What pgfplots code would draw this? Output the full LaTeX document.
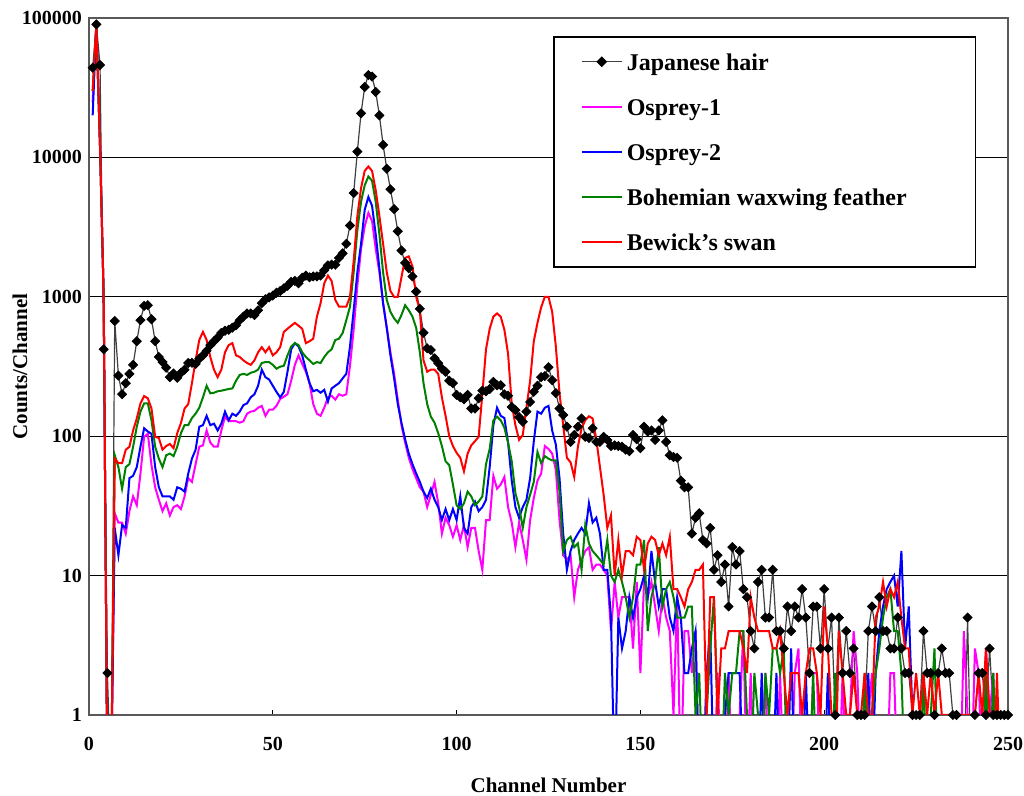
\documentclass[border=0pt]{standalone}
\usepackage{fontspec}
\setmainfont{Liberation Serif}
\usepackage{pgfplots}
\pgfplotsset{compat=1.18}
\usepackage{pgfplotstable}
\definecolor{cmag}{RGB}{255,0,255}
\definecolor{cblu}{RGB}{0,0,255}
\definecolor{cgrn}{RGB}{0,128,0}
\definecolor{cred}{RGB}{255,0,0}
\definecolor{cblk}{RGB}{64,64,64}
% ch = channel; jp = Japanese hair; o1 = Osprey-1; o2 = Osprey-2; bw = Bohemian waxwing feather; bs = Bewick's swan
% 0.3 stands for an empty channel (drawn below the axis, as zero counts are)
\pgfplotstableread{
ch jp o1 o2 bw bs
1 44000 25000 20000 30000 30000
2 90000 90000 90000 90000 90000
3 46000 12000 12000 12000 12000
4 420 1000 1000 1000 1000
5 2 0.3 0.3 0.3 0.3
6 0.3 0.3 0.3 0.3 0.3
7 670 28 22 73 69
8 272 24 14 60 64
9 200 24 23 42 64
10 240 20 22 60 80
11 280 29 50 63 84
12 325 37 52 84 110
13 480 32 60 117 134
14 680 54 84 150 172
15 860 99 114 172 194
16 870 104 108 172 187
17 690 62 104 130 158
18 480 43 60 84 99
19 370 35 43 69 97
20 340 29 37 60 80
21 310 33 37 73 85
22 265 27 37 75 88
23 282 31 35 72 82
24 262 32 43 84 105
25 285 30 42 105 124
26 300 37 40 120 158
27 335 50 54 120 170
28 336 47 69 135 240
29 330 63 80 145 350
30 360 84 117 160 490
31 380 86 120 190 560
32 410 110 140 230 490
33 450 90 120 203 370
34 480 84 123 205 300
35 510 84 110 210 265
36 550 110 123 212 300
37 570 138 150 215 400
38 580 128 130 218 450
39 600 128 145 220 465
40 625 128 140 250 380
41 680 125 150 275 370
42 720 128 167 280 350
43 760 145 172 275 335
44 760 150 190 285 325
45 740 152 200 290 350
46 800 160 230 300 400
47 900 165 300 335 435
48 960 140 265 340 400
49 990 155 255 340 435
50 1020 155 230 325 380
51 1070 165 208 305 400
52 1100 185 190 315 435
53 1150 192 208 320 560
54 1200 200 290 380 590
55 1280 250 420 440 620
56 1300 325 465 465 650
57 1250 380 440 450 620
58 1370 330 380 400 590
59 1420 290 300 370 465
60 1380 240 240 350 480
61 1400 170 210 330 500
62 1400 145 215 340 720
63 1420 140 205 335 900
64 1550 160 215 370 1250
65 1680 190 177 400 1420
66 1700 195 220 420 1300
67 1700 183 230 490 950
68 1900 200 240 500 850
69 2050 195 260 550 850
70 2400 200 280 680 850
71 3250 320 440 850 1000
72 5550 580 800 1500 1800
73 11000 1200 1500 3000 3800
74 20700 2200 2400 4800 6000
75 32000 3200 4200 6300 8000
76 39000 4000 5200 7300 8600
77 38000 3500 4500 6800 8000
78 29500 2200 2800 4800 5800
79 20000 1500 1600 2800 3800
80 12300 900 900 1500 2400
81 8300 600 600 950 1500
82 5900 400 380 780 1100
83 4250 280 260 700 1000
84 2950 183 170 650 1000
85 2150 120 125 740 1380
86 1750 90 95 870 1900
87 1600 70 75 800 1950
88 1400 58 63 720 1650
89 1090 50 54 600 1000
90 820 43 47 400 800
91 552 40 40 240 350
92 427 31 36 170 290
93 415 38 42 138 300
94 362 47 35 125 300
95 334 33 31 105 280
96 305 20 25 85 190
97 290 26 30 66 140
98 250 23 25 62 100
99 240 19 30 45 85
100 198 23 25 32 76
101 190 18 37 30 70
102 184 23 22 33 56
103 198 16 20 40 75
104 158 22 31 37 86
105 158 22 34 32 92
106 187 15 29 34 99
107 212 11 31 37 200
108 210 25 35 63 420
109 218 25 60 81 590
110 245 52 120 130 720
111 232 42 160 138 760
112 232 45 140 130 720
113 200 51 135 115 580
114 195 31 90 90 390
115 162 24 48 66 170
116 154 16 31 39 120
117 137 24 26 31 94
118 127 18 31 22 102
119 150 13 35 31 160
120 176 25 50 38 250
121 208 36 92 47 480
122 230 48 150 77 650
123 265 54 145 64 840
124 270 85 160 72 1000
125 312 81 165 69 1000
126 252 75 110 67 780
127 204 57 87 67 440
128 158 25 50 40 203
129 142 14 20 15 120
130 117 13 11 18 70
131 91 14 15 19 65
132 102 7 18 16 51
133 117 11 20 17 84
134 134 13 22 11 114
135 99 15 20 23 130
136 97 16 33 17 139
137 114 11 24 15 134
138 91 12 26 14 95
139 91 12 20 13 60
140 99 11 11 12 38
141 94 10 11 18 22
142 85 4 5 10 27
143 86 9 0.3 9 10
144 85 5 5 11 18
145 84 7 3 9 10
146 80 7 4 7 15
147 78 7 7 5 15
148 102 3 5 7 14
149 95 9 7 12 19
150 82 2 8 12 18
151 117 9 10 18 11
152 108 7 7 4 17
153 110 9 15 7 19
154 94 6 9 9 18
155 110 4 6 16 14
156 130 7 8 6 17
157 91 5 8 8 14
158 73 4 5 9 19
159 71 1 4 7 8
160 70 7 7 5 8
161 48 0.3 5 5 7
162 43 4 2 5 6
163 43 4 2 6 8
164 20 2 3 6 9
165 26 4 4 1 11
166 28 0.3 0.3 2 11
167 18 0.3 0.3 0.3 12
168 17 0.3 2 1 1
169 22 0.3 4 3 7
170 11 0.3 0.3 7 7
171 14 2 0.3 1 1
172 9 0.3 0.3 0.3 3
173 12 0.3 1 2 3
174 6 2 2 1 4
175 16 0.3 2 2 4
176 12 0.3 2 2 4
177 15 1 2 4 4
178 8 4 0.3 4 3
179 7 0.3 1 1 2
180 4 2 0.3 0.3 7
181 3 0.3 1 2 5
182 9 1 0.3 1 4
183 11 0.3 2 0.3 4
184 5 2 0.3 2 4
185 5 0.3 1 1 4
186 11 1 0.3 3 3
187 4 0.3 2 3 3
188 4 2 0.3 2 4
189 3 0.3 1 3 2
190 6 1 0.3 0.3 1
191 4 0.3 3 1 2
192 6 2 0.3 0.3 2
193 5 3 1 1 2
194 8 0.3 0.3 0.3 1
195 5 1 2 1 2
196 2 0.3 0.3 0.3 3
197 6 2 1 2 3
198 6 2 0.3 0.3 2
199 3 0.3 1 1 1
200 8 1 0.3 0.3 6
201 3 0.3 2 1 3
202 5 0.3 0.3 0.3 1
203 1 1 0.3 2 0.3
204 5 0.3 1 0.3 4
205 2 2 0.3 1 2
206 4 0.3 0.3 0.3 1
207 2 1 1 1 1
208 3 4 0.3 0.3 2
209 1 2 0.3 1 1
210 1 0.3 1 0.3 1
211 1 0.3 0.3 2 2
212 4 1 2 0.3 1
213 6 2 0.3 1 1
214 4 0.3 2 2 5
215 7 1 4 3 6
216 4 0.3 6 5 9
217 4 0.3 8 7 6
218 3 2 9 8 8
219 3 2 10 4 7
220 5 0.3 6 4 9
221 3 0.3 15 2 5
222 2 0.3 3 0.3 3
223 2 1 6 0.3 3
224 1 0.3 1 1 1
225 1 0.3 0.3 0.3 2
226 1 1 0.3 0.3 1
227 4 0.3 1 2 2
228 2 0.3 0.3 0.3 1
229 2 1 0.3 1 2
230 1 0.3 0.3 3 1
231 2 0.3 1 0.3 2
232 3 1 0.3 0.3 1
233 2 0.3 0.3 1 1
234 2 0.3 0.3 0.3 1
235 1 1 0.3 0.3 1
236 1 0.3 0.3 0.3 1
237 0.3 0.3 0.3 0.3 1
238 0.3 4 0.3 1 1
239 5 1 0.3 0.3 1
240 0.3 0.3 0.3 0.3 1
241 1 3 0.3 0.3 1
242 2 2 0.3 1 2
243 2 0.3 0.3 0.3 1
244 1 3 0.3 2 3
245 3 1 0.3 0.3 1
246 1 2 0.3 2 0.3
247 1 0.3 0.3 0.3 2
248 1 0.3 0.3 0.3 0.3
249 1 0.3 0.3 0.3 0.3
250 1 0.3 0.3 0.3 0.3
}\spectra

\begin{document}
\begin{tikzpicture}
\begin{axis}[
  scale only axis, width=459.5pt, height=348.5pt,
  xmin=0, xmax=250, ymin=1, ymax=100000, ymode=log,
  xtick={0,50,100,150,200,250}, xticklabels={0,50,100,150,200,250},
  ytick={1,10,100,1000,10000,100000},
  yticklabels={1,10,100,1000,10000,100000},
  yminorticks=false,
  xtick pos=left, ytick pos=left, tick align=inside,
  major tick length=2.5pt,
  tick style={black, line width=0.6pt},
  ymajorgrids, grid style={black, line width=0.6pt},
  axis line style={black!65, line width=0.9pt},
  x tick label style={font=\fontsize{10}{12}\selectfont\bfseries, yshift=-7.5pt},
  y tick label style={font=\fontsize{10}{12}\selectfont\bfseries},
  legend image code/.code={\draw[mark repeat=2, mark phase=2, #1] plot coordinates {(0pt,0pt) (10pt,0pt) (20pt,0pt)};},
  legend cell align=left,
  legend style={at={(rel axis cs:0.505,0.974)}, anchor=north west,
    draw=black, line width=0.7pt, fill=white,
    inner xsep=13.5pt, inner ysep=5pt, row sep=7.5pt,
    font=\fontsize{12}{14}\selectfont\bfseries,
    nodes={inner sep=2pt, text height=10pt, text depth=1pt}},
]
\addlegendimage{cblk, line width=0.6pt, mark=square*, mark size=1.6pt, mark options={black, rotate=45, solid}}
\addlegendentry{Japanese hair}
\addlegendimage{cmag, line width=1pt}
\addlegendentry{Osprey-1}
\addlegendimage{cblu, line width=1pt}
\addlegendentry{Osprey-2}
\addlegendimage{cgrn, line width=1pt}
\addlegendentry{Bohemian waxwing feather\hspace*{19pt}}
\addlegendimage{cred, line width=1pt}
\addlegendentry{Bewick’s swan}

\addplot[cblk, line width=0.6pt, no marks, forget plot] table[x=ch, y=jp] {\spectra};
\addplot[cmag, line width=1pt, no marks, forget plot] table[x=ch, y=o1] {\spectra};
\addplot[cblu, line width=1pt, no marks, forget plot] table[x=ch, y=o2] {\spectra};
\addplot[cgrn, line width=1pt, no marks, forget plot] table[x=ch, y=bw] {\spectra};
\addplot[cred, line width=1pt, no marks, forget plot] table[x=ch, y=bs] {\spectra};
\addplot[only marks, mark=square*, mark size=1.6pt, mark options={black, rotate=45}, forget plot,
  x filter/.code={%
    \ifnum\coordindex=5 \def\pgfmathresult{}\fi
    \ifnum\coordindex=236 \def\pgfmathresult{}\fi
    \ifnum\coordindex=237 \def\pgfmathresult{}\fi
    \ifnum\coordindex=239 \def\pgfmathresult{}\fi}] table[x=ch, y=jp] {\spectra};

\coordinate (sw) at (rel axis cs:0,0);
\coordinate (ne) at (rel axis cs:1,1);
\coordinate (yl) at (rel axis cs:0,0.5);
\coordinate (xl) at (rel axis cs:0.5,0);
\end{axis}
\node[rotate=90, font=\fontsize{10.5}{12}\selectfont\bfseries] at ([xshift=-34.5pt]yl) {Counts/Channel};
\node[font=\fontsize{10.5}{12}\selectfont\bfseries] at ([yshift=-35pt]xl) {Channel Number};
\pgfresetboundingbox
\path ([shift={(-44.5pt,-40.5pt)}]sw) rectangle ([shift={(8pt,9pt)}]ne);
\end{tikzpicture}
\end{document}
